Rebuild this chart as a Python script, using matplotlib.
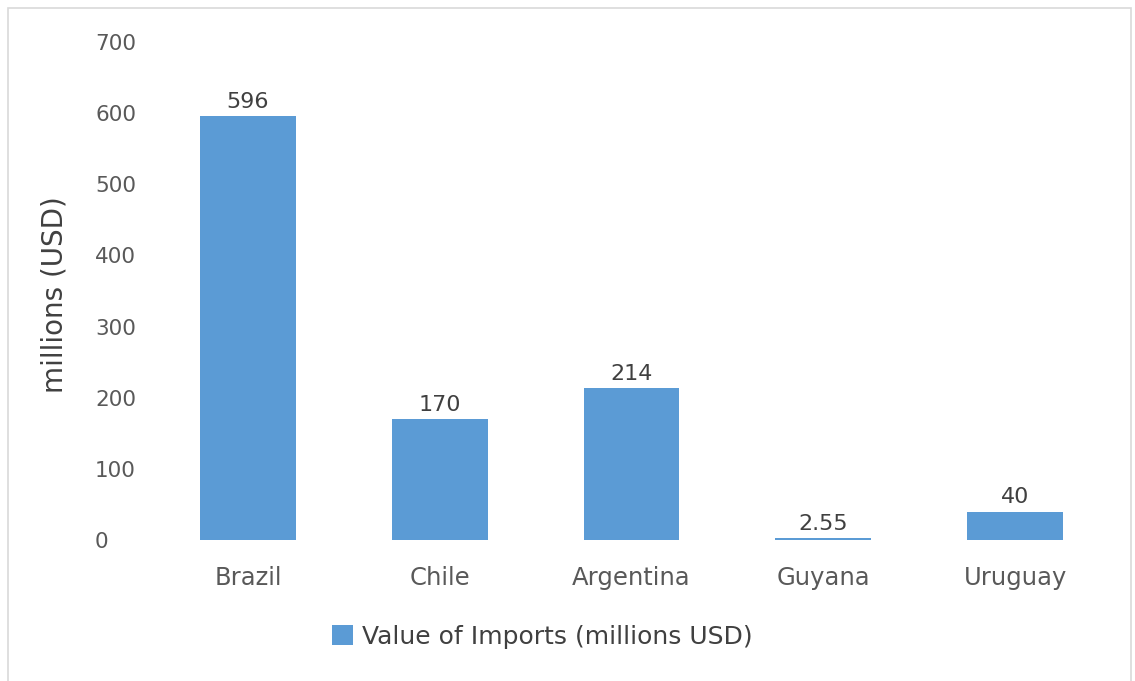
import matplotlib
matplotlib.use("Agg")
import matplotlib.pyplot as plt
from matplotlib.patches import Rectangle

categories = ["Brazil", "Chile", "Argentina", "Guyana", "Uruguay"]
values = [596, 170, 214, 2.55, 40]
value_labels = ["596", "170", "214", "2.55", "40"]
yticks = [0, 100, 200, 300, 400, 500, 600, 700]
series_name = "Value of Imports (millions USD)"
ylabel = "millions (USD)"

W, H = 1135, 681
fig = plt.figure(figsize=(W / 100, H / 100), dpi=100)
plt.rcParams['font.family'] = ['DejaVu Sans']

ax = fig.add_axes([152 / W, 1 - 540 / H, (1111 - 152) / W, (540 - 42) / H])
bar_color = "#5B9BD5"
x = list(range(len(categories)))
bars = ax.bar(x, values, width=0.5, color=bar_color, label=series_name, zorder=2)

ax.set_xlim(-0.5, len(categories) - 0.5)
ax.set_ylim(0, 700)
ax.set_yticks(yticks)
ax.set_yticklabels([str(t) for t in yticks])
ax.set_xticks(x)
ax.set_xticklabels(categories)
for s in ax.spines.values():
    s.set_visible(False)
ax.tick_params(axis='y', length=0, pad=41, labelsize=15.5, labelcolor="#595959")
ax.tick_params(axis='x', length=0, pad=19, labelsize=17.5, labelcolor="#595959")
for lab in ax.get_yticklabels():
    lab.set_horizontalalignment('left')

for xi, v, lbl in zip(x, values, value_labels):
    ax.annotate(lbl, (xi, v), xytext=(0, 3), textcoords='offset points',
                ha='center', va='bottom', fontsize=16, color="#404040")

fig.text(54 / W, 1 - 295 / H, ylabel, rotation=90, ha='center', va='center',
         fontsize=20, color="#404040")

leg = fig.legend(handles=[bars], labels=[series_name], loc='center',
                 bbox_to_anchor=(542 / W, 1 - 637 / H), frameon=False,
                 fontsize=18, handlelength=0.85, handleheight=0.85,
                 handletextpad=0.35, labelcolor="#404040")

fig.patches.append(Rectangle((8 / W, -0.01), (1131 - 8) / W, 1 - 8 / H + 0.01,
                             transform=fig.transFigure, fill=False,
                             edgecolor="#D9D9D9", linewidth=1.2))

fig.savefig("out.png", dpi=100)
